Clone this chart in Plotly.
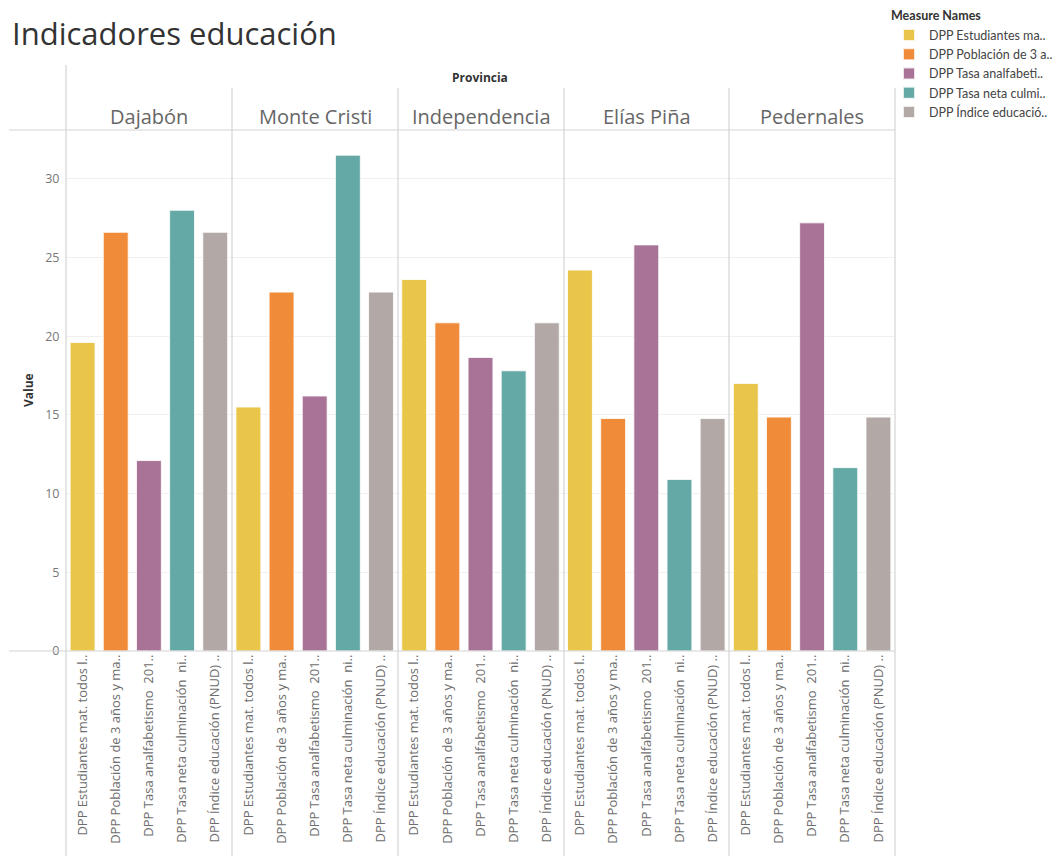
import plotly.graph_objects as go
from plotly.subplots import make_subplots

provinces = ["Dajabón", "Monte Cristi", "Independencia", "Elías Piña", "Pedernales"]
legend_names = ["DPP Estudiantes ma..", "DPP Población de 3 a..", "DPP Tasa analfabeti..",
                "DPP Tasa neta culmi..", "DPP Índice educació.."]
tick_labels = ["DPP Estudiantes mat. todos l..", "DPP Población de 3 años y ma..",
               "DPP Tasa analfabetismo  201..", "DPP Tasa neta culminación  ni..",
               "DPP Índice educación (PNUD) .."]
colors = ["#E9C54A", "#EF8B39", "#A87397", "#64A9A6", "#B2A9A6"]

# values[measure][province]
estudiantes = [19.6, 15.5, 23.6, 24.2, 17.0]
poblacion = [26.6, 22.8, 20.85, 14.77, 14.86]
analfabetismo = [12.1, 16.2, 18.65, 25.8, 27.2]
culminacion = [28.0, 31.5, 17.8, 10.9, 11.65]
indice = [26.6, 22.8, 20.85, 14.77, 14.86]
series = [estudiantes, poblacion, analfabetismo, culminacion, indice]

FONT = "Open Sans"
OFF = 8  # page body margin
W, H = 1063 - OFF, 863 - OFF
L, R, T, B = 66 - OFF, 895 - OFF, 130 - OFF, 651 - OFF

fig = make_subplots(rows=1, cols=5, shared_yaxes=True, horizontal_spacing=0)

for p, prov in enumerate(provinces):
    for m in range(5):
        fig.add_trace(go.Bar(
            x=[tick_labels[m]], y=[series[m][p]], name=legend_names[m],
            marker=dict(color=colors[m], line=dict(color="rgba(255,255,255,0.8)", width=1)),
            width=0.75, legendgroup=legend_names[m], showlegend=(p == 0),
        ), row=1, col=p + 1)

pw, ph = R - L, B - T

for c in range(1, 6):
    fig.update_xaxes(row=1, col=c, type="category", categoryorder="array",
                     categoryarray=tick_labels, range=[-0.5, 4.5], tickangle=-90,
                     tickfont=dict(family=FONT, size=13, color="#6E6E6E"),
                     showgrid=False, showline=False, ticks="", zeroline=False, fixedrange=True)
    fig.update_yaxes(row=1, col=c, range=[0, 33.1], tickvals=[0, 5, 10, 15, 20, 25, 30],
                     showgrid=True, gridcolor="#F0F0F0", gridwidth=1, zeroline=False,
                     showline=False, ticks="")
fig.update_yaxes(row=1, col=1, tickfont=dict(family=FONT, size=12.5, color="#777777"),
                 ticks="outside", ticklen=0, tickcolor="rgba(0,0,0,0)",
                 anchor="free", position=0.0, ticklabelstandoff=4)

def px_x(x):
    return (x - OFF - L) / pw
def px_y(y):
    return (B - (y - OFF)) / ph

shapes = []
line_col = "#D4D4D4"
bounds = [66, 232, 398, 564, 729, 895]
for i, bx in enumerate(bounds):
    y0 = 65 if i == 0 else 88
    shapes.append(dict(type="line", xref="paper", yref="paper", x0=px_x(bx), x1=px_x(bx),
                       y0=px_y(y0), y1=px_y(856), line=dict(color=line_col, width=1.2)))
shapes.append(dict(type="line", xref="paper", yref="paper", x0=px_x(9), x1=px_x(895),
                   y0=px_y(130), y1=px_y(130), line=dict(color=line_col, width=1.2)))
shapes.append(dict(type="line", xref="paper", yref="paper", x0=px_x(9), x1=px_x(895),
                   y0=px_y(651), y1=px_y(651), line=dict(color=line_col, width=1.2)))

annotations = []
for i, prov in enumerate(provinces):
    cx = (bounds[i] + bounds[i + 1]) / 2
    annotations.append(dict(text=prov, xref="paper", yref="paper", x=px_x(cx), y=px_y(117),
                            showarrow=False, font=dict(family=FONT, size=20, color="#666666"),
                            xanchor="center", yanchor="middle"))
annotations.append(dict(text="<b>Provincia</b>", xref="paper", yref="paper", x=px_x(480), y=px_y(77),
                        showarrow=False, font=dict(family=FONT, size=12, color="#333333"),
                        xanchor="center", yanchor="middle"))
annotations.append(dict(text="<b>Value</b>", xref="paper", yref="paper", x=px_x(28), y=px_y(390),
                        showarrow=False, textangle=-90, font=dict(family=FONT, size=12, color="#333333"),
                        xanchor="center", yanchor="middle"))

fig.update_layout(
    width=W, height=H,
    margin=dict(l=L, r=W - R, t=T, b=H - B, autoexpand=False),
    paper_bgcolor="white", plot_bgcolor="white",
    title=dict(text="Indicadores educación", x=(12 - OFF) / W, xanchor="left",
               y=1 - (34 - OFF) / H, yanchor="middle",
               font=dict(family=FONT, size=31, color="#333333")),
    legend=dict(title=dict(text="<b>Measure Names</b>", font=dict(family="Lato", size=12.5, color="#333333")),
                font=dict(family="Lato", size=12.5, color="#444444"),
                x=px_x(889), xanchor="left", y=px_y(4), yanchor="top",
                bgcolor="rgba(0,0,0,0)", tracegroupgap=0, itemsizing="constant"),
    bargap=0.25,
    shapes=shapes, annotations=annotations,
    showlegend=True,
)

fig.write_html("out.html")
